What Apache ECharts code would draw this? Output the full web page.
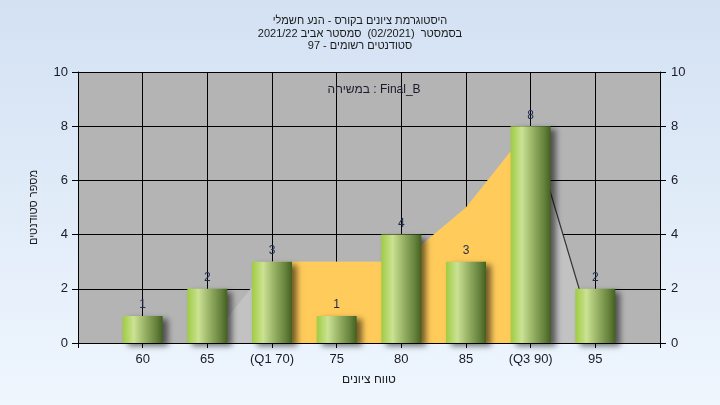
<!DOCTYPE html>
<html>
<head>
<meta charset="utf-8">
<script src="https://cdn.jsdelivr.net/npm/echarts@6/dist/echarts.min.js"></script>
<style>html,body{margin:0;padding:0;}#c{width:720px;height:405px;}</style>
</head>
<body>
<div id="c"></div>
<script>
// ---- data ----
const categories = ['', '60', '65', '(Q1 70)', '75', '80', '85', '(Q3 90)', '95', ''];
const counts = [null, 1, 2, 3, 1, 4, 3, 8, 2, null];
const polygonValues = [null, null, 0, 3, 3, 3, 5, 8, 0, null];
const quartileValues = [null, null, null, 3, 3, 3, 5, 8, null, null];
const tailValues = [null, null, null, null, null, null, null, 8, 0, null];
const yMin = 0, yMax = 10, yInterval = 2;
const titleLines = ['היסטוגרמת ציונים בקורס - הנע חשמלי', 'בסמסטר  (02/2021)  סמסטר אביב 2021/22', 'סטודנטים רשומים - 97'];
const legendText = 'במשיחה : Final_B';
const xName = 'טווח ציונים';
const yName = 'מספר סטודנטים';

const FONT = "'Liberation Sans', 'DejaVu Sans', sans-serif";
const chart = echarts.init(document.getElementById('c'));
const axisLabelStyle = { color: '#1a1a2a', fontSize: 13, fontFamily: FONT };

chart.setOption({
  animation: false,
  backgroundColor: new echarts.graphic.LinearGradient(0, 0, 0, 1, [
    { offset: 0, color: '#d3e1f3' }, { offset: 1, color: '#eff6fe' }
  ]),
  title: [
    { text: titleLines.join('\n'), left: 'center', top: 10,
      textStyle: { fontSize: 11, fontWeight: 'normal', color: '#1a1a1a', fontFamily: FONT, lineHeight: 12.5 } },
    { text: legendText, left: 369, top: 79, textAlign: 'center',
      textStyle: { fontSize: 12, fontWeight: 'normal', color: '#1a1a2a', fontFamily: FONT } }
  ],
  grid: { left: 78, right: 60, top: 72, bottom: 62, show: true, backgroundColor: '#b4b4b4', borderWidth: 0 },
  xAxis: [
    { type: 'category', data: categories, boundaryGap: false, position: 'bottom',
      axisLine: { show: false }, axisTick: { show: false }, axisLabel: { show: false },
      splitLine: { show: true, interval: 0, lineStyle: { color: '#000', width: 1 } } },
    { type: 'category', data: categories, boundaryGap: false, position: 'bottom', z: 10,
      axisLine: { show: true, lineStyle: { color: '#000', width: 1 } },
      axisTick: { show: true, interval: 0, length: 5, lineStyle: { color: '#000' } },
      axisLabel: Object.assign({ interval: 0, margin: 10 }, axisLabelStyle),
      splitLine: { show: false },
      name: xName, nameLocation: 'middle', nameGap: 31,
      nameTextStyle: { fontSize: 12, color: '#1a1a1a', fontFamily: FONT } }
  ],
  yAxis: [
    { type: 'value', min: yMin, max: yMax, interval: yInterval, position: 'left',
      axisLine: { show: true, lineStyle: { color: '#000', width: 1 } },
      axisTick: { show: true, length: 6, lineStyle: { color: '#000' } },
      axisLabel: Object.assign({ margin: 10 }, axisLabelStyle),
      splitLine: { show: true, lineStyle: { color: '#000', width: 1 } },
      name: yName, nameLocation: 'middle', nameGap: 39, nameRotate: 90,
      nameTextStyle: { fontSize: 11, color: '#1a1a1a', fontFamily: FONT } },
    { type: 'value', min: yMin, max: yMax, interval: yInterval, position: 'right',
      axisLine: { show: true, lineStyle: { color: '#000', width: 1 } },
      axisTick: { show: true, length: 6, lineStyle: { color: '#000' } },
      axisLabel: Object.assign({ margin: 11 }, axisLabelStyle),
      splitLine: { show: false } }
  ],
  series: [
    { type: 'line', data: polygonValues, symbol: 'none', z: 1, silent: true,
      lineStyle: { width: 0, opacity: 0 }, areaStyle: { color: '#c2c2c2', opacity: 1 } },
    { type: 'line', data: quartileValues, symbol: 'none', z: 2, silent: true,
      lineStyle: { width: 0, opacity: 0 }, areaStyle: { color: '#ffcb5a', opacity: 1 } },
    { type: 'line', data: tailValues, symbol: 'none', z: 3, silent: true,
      lineStyle: { width: 1.2, color: '#333' } },
    { type: 'bar', data: counts, barWidth: 40, z: 4,
      itemStyle: {
        color: new echarts.graphic.LinearGradient(0, 0, 1, 0, [
          { offset: 0, color: '#9fcc42' }, { offset: 0.28, color: '#cbe293' },
          { offset: 0.55, color: '#98b266' }, { offset: 0.85, color: '#63803a' },
          { offset: 1, color: '#44601e' }
        ]),
        shadowColor: 'rgba(0,0,0,0.55)', shadowBlur: 6, shadowOffsetX: 5, shadowOffsetY: 3
      },
      label: { show: true, position: 'top', distance: 5, color: '#1d2b4f', fontSize: 12, fontFamily: FONT } }
  ]
});
</script>
</body>
</html>
